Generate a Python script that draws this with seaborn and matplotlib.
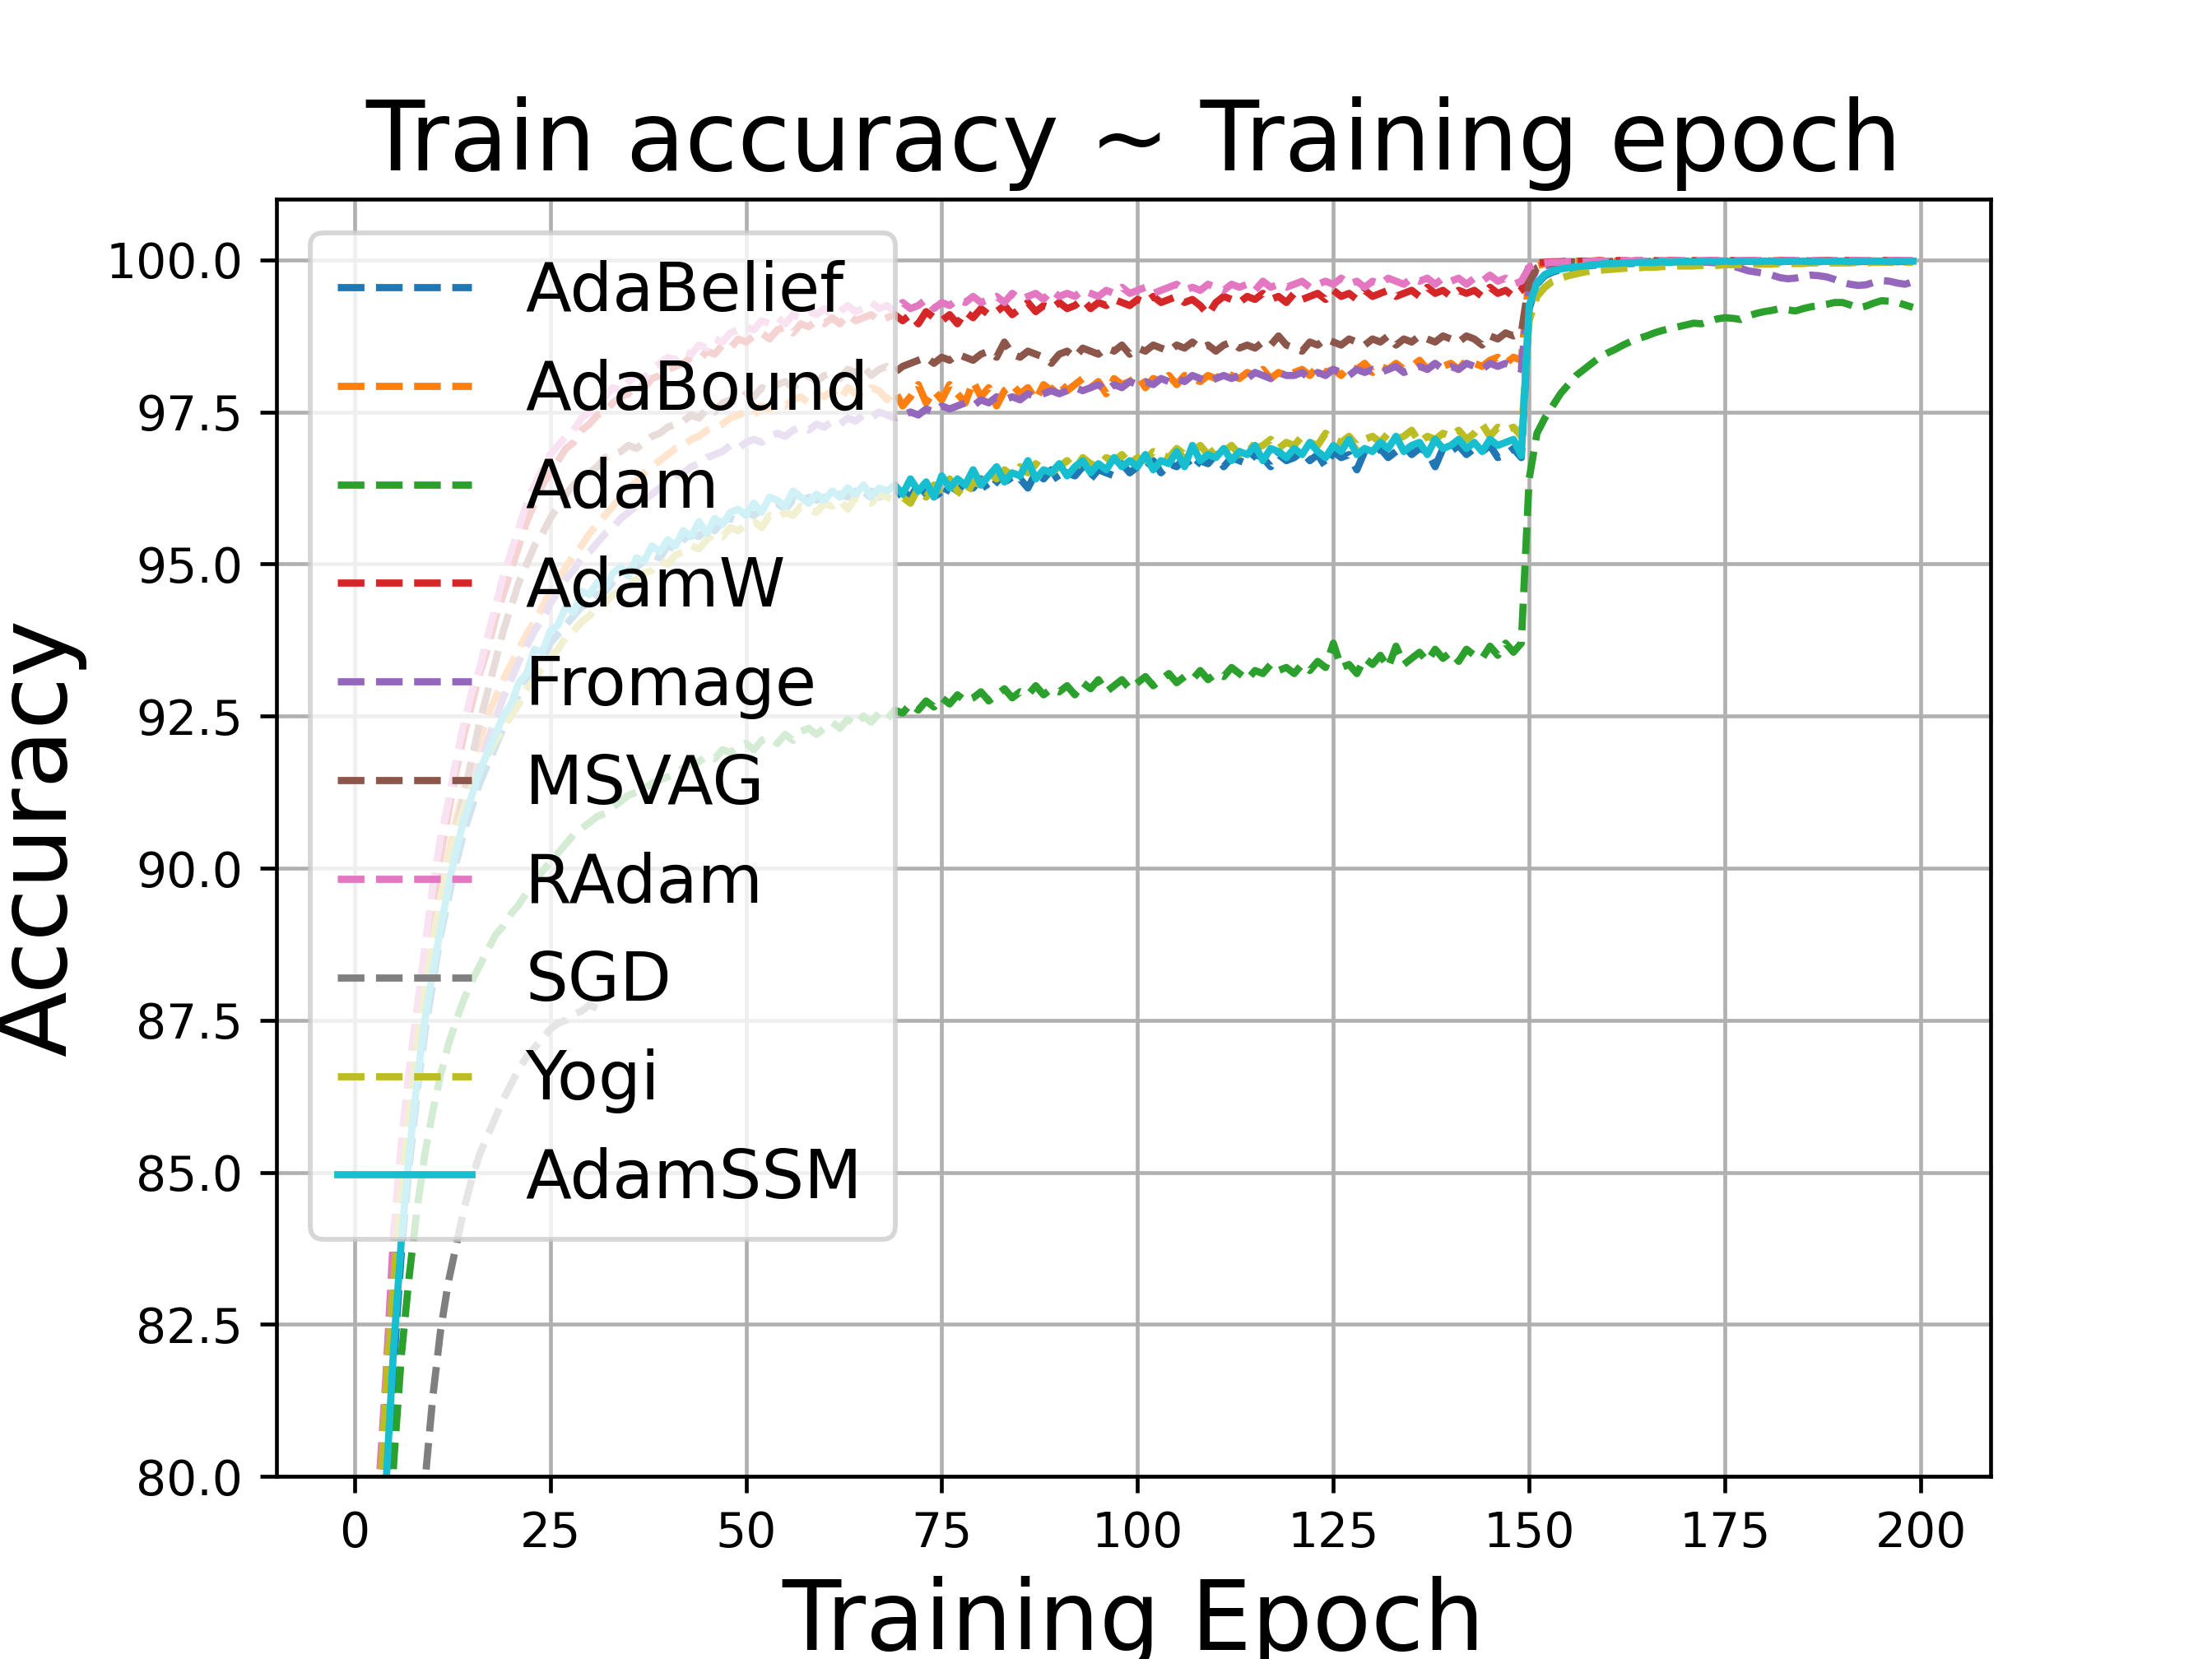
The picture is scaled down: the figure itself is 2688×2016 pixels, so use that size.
import matplotlib
matplotlib.use("Agg")
import matplotlib.pyplot as plt
import seaborn as sns

# ---------------- data (train accuracy per epoch) ----------------
names = ["AdaBelief", "AdaBound", "Adam", "AdamW", "Fromage", "MSVAG",
         "RAdam", "SGD", "Yogi", "AdamSSM"]

adabelief_acc = [
    40.1, 60.2, 70.5, 76.6, 79.5, 81.8, 83.7, 85.1, 86.3, 87.3,
    88.1, 88.9, 89.5, 90.1, 90.6, 91.0, 91.4, 91.7, 92.0, 92.3,
    92.6, 92.85, 93.1, 93.35, 93.45, 93.7, 93.85, 94.0, 94.15, 94.3,
    94.35, 94.5, 94.55, 94.7, 94.8, 94.9, 94.95, 95.05, 95.15, 95.1,
    95.3, 95.25, 95.4, 95.5, 95.45, 95.6, 95.55, 95.7, 95.75, 95.7,
    95.85, 95.8, 95.9, 95.95, 96.0, 95.9, 96.05, 96.0, 96.1, 96.05,
    96.1, 96.0, 96.15, 96.1, 96.2, 96.05, 96.2, 96.1, 96.15, 96.1,
    96.2, 96.1, 96.3, 96.15, 96.25, 96.05, 96.3, 96.2, 96.35, 96.25,
    96.4, 96.2, 96.35, 96.5, 96.3, 96.4, 96.25, 96.5, 96.4, 96.55,
    96.35, 96.5, 96.45, 96.6, 96.4, 96.55, 96.5, 96.45, 96.65, 96.5,
    96.6, 96.55, 96.7, 96.5, 96.65, 96.6, 96.75, 96.55, 96.7, 96.65,
    96.8, 96.6, 96.75, 96.7, 96.65, 96.8, 96.75, 96.6, 96.8, 96.7,
    96.75, 96.85, 96.7, 96.8, 96.6, 96.85, 96.75, 96.8, 96.55, 96.85,
    96.8, 96.9, 96.75, 96.85, 96.95, 96.8, 96.9, 96.85, 96.6, 96.9,
    96.85, 96.95, 96.8, 96.9, 96.85, 96.95, 96.75, 96.8, 96.9, 96.75,
    99.2, 99.6, 99.74, 99.8, 99.84, 99.86, 99.88, 99.89, 99.91, 99.92,
    99.93, 99.93, 99.94, 99.94, 99.95, 99.95, 99.95, 99.96, 99.96, 99.96,
    99.96, 99.97, 99.96, 99.97, 99.97, 99.97, 99.97, 99.97, 99.98, 99.97,
    99.97, 99.98, 99.97, 99.98, 99.97, 99.98, 99.98, 99.97, 99.98, 99.98,
    99.98, 99.98, 99.97, 99.98, 99.98, 99.98, 99.98, 99.97, 99.98, 99.98,
]

adabound_acc = [
    45.0, 64.5, 73.2, 78.4, 81.0, 83.0, 84.6, 85.9, 87.0, 88.0,
    88.8, 89.6, 90.2, 90.8, 91.3, 91.7, 92.1, 92.5, 92.8, 93.1,
    93.35, 93.6, 93.85, 94.05, 94.3, 94.55, 94.75, 94.95, 95.15, 95.3,
    95.5, 95.65, 95.8, 95.95, 96.1, 96.25, 96.35, 96.5, 96.6, 96.7,
    96.8, 96.9, 96.95, 97.05, 97.1, 97.2, 97.25, 97.3, 97.4, 97.45,
    97.5, 97.45, 97.6, 97.55, 97.65, 97.6, 97.7, 97.75, 97.65, 97.8,
    97.75, 97.85, 97.7, 97.9, 97.8, 97.75, 97.9, 97.85, 97.7, 97.85,
    97.6, 97.75, 97.95, 97.65, 97.85, 97.7, 97.95, 97.8, 97.65, 98.0,
    97.75, 97.9, 97.6, 97.85, 97.95, 97.8, 97.9, 97.7, 97.95, 97.85,
    98.0, 97.85, 97.95, 98.05, 97.9, 98.0, 97.8, 98.05, 97.95, 98.0,
    98.1, 97.9, 98.05, 98.0, 98.1, 97.95, 98.1, 98.05, 98.0, 98.1,
    98.05, 98.15, 98.1, 98.05, 98.15, 98.1, 98.2, 98.05, 98.15, 98.1,
    98.15, 98.2, 98.1, 98.25, 98.15, 98.2, 98.1, 98.25, 98.2, 98.3,
    98.15, 98.25, 98.2, 98.3, 98.2, 98.25, 98.35, 98.2, 98.3, 98.25,
    98.3, 98.2, 98.35, 98.3, 98.25, 98.35, 98.4, 98.3, 98.4, 98.35,
    99.75, 99.9, 99.94, 99.96, 99.97, 99.97, 99.98, 99.98, 99.98, 99.98,
    99.97, 99.98, 99.98, 99.98, 99.97, 99.98, 99.98, 99.98, 99.98, 99.97,
    99.98, 99.98, 99.98, 99.97, 99.98, 99.98, 99.98, 99.98, 99.98, 99.98,
    99.97, 99.98, 99.98, 99.98, 99.98, 99.98, 99.97, 99.98, 99.98, 99.98,
    99.98, 99.98, 99.98, 99.97, 99.98, 99.98, 99.98, 99.98, 99.98, 99.98,
]

adam_acc = [
    38.0, 55.0, 66.0, 72.5, 77.0, 80.2, 82.0, 83.3, 84.4, 85.3,
    86.0, 86.6, 87.1, 87.5, 87.85, 88.15, 88.4, 88.65, 88.9, 89.05,
    89.25, 89.4, 89.6, 89.75, 89.95, 90.1, 90.25, 90.4, 90.55, 90.65,
    90.75, 90.85, 90.9, 91.0, 91.1, 91.2, 91.25, 91.3, 91.4, 91.45,
    91.5, 91.55, 91.65, 91.7, 91.75, 91.85, 91.8, 91.95, 91.9, 92.0,
    92.05, 91.95, 92.1, 92.15, 92.05, 92.2, 92.1, 92.25, 92.3, 92.2,
    92.3, 92.4, 92.3, 92.45, 92.35, 92.5, 92.4, 92.55, 92.45, 92.6,
    92.55, 92.7, 92.6, 92.75, 92.65, 92.8, 92.7, 92.85, 92.75, 92.8,
    92.9, 92.75, 92.85, 92.95, 92.8, 92.9, 92.85, 93.0, 92.85, 92.95,
    92.9, 93.0, 92.85, 93.05, 92.95, 93.1, 92.9, 93.0, 93.1, 92.95,
    93.05, 93.15, 93.0, 93.1, 93.2, 93.05, 93.15, 93.1, 93.25, 93.1,
    93.2, 93.15, 93.3, 93.2, 93.1, 93.25, 93.2, 93.35, 93.25, 93.3,
    93.2, 93.35, 93.25, 93.4, 93.3, 93.7, 93.3, 93.35, 93.2, 93.45,
    93.35, 93.5, 93.3, 93.65, 93.35, 93.45, 93.55, 93.4, 93.6, 93.45,
    93.55, 93.4, 93.6, 93.5, 93.45, 93.65, 93.5, 93.7, 93.55, 93.7,
    96.4, 97.15, 97.4, 97.6, 97.8, 97.95, 98.1, 98.2, 98.3, 98.4,
    98.47, 98.53, 98.6, 98.66, 98.71, 98.75, 98.8, 98.84, 98.87, 98.9,
    98.93, 98.96, 98.95, 98.99, 99.03, 99.05, 99.04, 99.02, 99.08, 99.12,
    99.15, 99.17, 99.2, 99.18, 99.16, 99.2, 99.23, 99.25, 99.27, 99.3,
    99.3, 99.26, 99.21, 99.24, 99.29, 99.33, 99.32, 99.3, 99.26, 99.22,
]

adamw_acc = [
    47.0, 66.8, 74.8, 79.3, 81.4, 83.7, 85.2, 86.4, 87.5, 88.5,
    89.4, 90.2, 90.9, 91.6, 92.2, 92.7, 93.2, 93.6, 94.1, 94.5,
    94.9, 95.3, 95.7, 96.0, 96.3, 96.5, 96.7, 96.9, 97.0, 97.2,
    97.3, 97.45, 97.5, 97.65, 97.75, 97.8, 97.95, 97.9, 98.05, 98.1,
    98.2, 98.25, 98.3, 98.4, 98.35, 98.5, 98.45, 98.6, 98.55, 98.7,
    98.65, 98.75, 98.8, 98.7, 98.85, 98.9, 98.8, 98.95, 98.9, 99.0,
    98.95, 99.05, 98.95, 99.1, 99.0, 99.05, 99.1, 99.0, 99.05, 99.1,
    99.0, 99.1, 98.95, 99.15, 99.05, 99.0, 99.1, 98.95, 99.15, 99.05,
    99.2, 99.1, 99.15, 99.25, 99.1, 99.2, 99.3, 99.15, 99.25, 99.2,
    99.3, 99.2, 99.25, 99.35, 99.2, 99.3, 99.25, 99.35, 99.3, 99.25,
    99.35, 99.3, 99.4, 99.3, 99.35, 99.4, 99.3, 99.35, 99.25, 99.1,
    99.3, 99.4, 99.35, 99.3, 99.4, 99.35, 99.45, 99.35, 99.4, 99.3,
    99.45, 99.35, 99.4, 99.45, 99.35, 99.5, 99.4, 99.45, 99.35, 99.5,
    99.4, 99.45, 99.5, 99.4, 99.45, 99.5, 99.4, 99.55, 99.45, 99.5,
    99.4, 99.5, 99.45, 99.5, 99.4, 99.55, 99.45, 99.5, 99.4, 99.5,
    99.9, 99.95, 99.96, 99.97, 99.97, 99.98, 99.98, 99.98, 99.98, 99.99,
    99.98, 99.99, 99.99, 99.98, 99.99, 99.99, 99.99, 99.98, 99.99, 99.99,
    99.99, 99.99, 99.98, 99.99, 99.99, 99.99, 99.99, 99.98, 99.99, 99.99,
    99.99, 99.98, 99.99, 99.99, 99.99, 99.99, 99.98, 99.99, 99.99, 99.99,
    99.99, 99.99, 99.99, 99.98, 99.99, 99.99, 99.99, 99.99, 99.98, 99.99,
]

fromage_acc = [
    44.0, 63.5, 72.5, 77.8, 80.4, 82.5, 84.1, 85.5, 86.6, 87.6,
    88.4, 89.1, 89.8, 90.3, 90.8, 91.3, 91.7, 92.1, 92.45, 92.8,
    93.1, 93.4, 93.65, 93.9, 94.1, 94.35, 94.55, 94.75, 94.9, 95.1,
    95.2, 95.35, 95.5, 95.6, 95.75, 95.85, 95.95, 96.05, 96.15, 96.25,
    96.3, 96.45, 96.5, 96.6, 96.65, 96.75, 96.8, 96.85, 96.95, 96.9,
    97.0, 97.05, 97.0, 97.1, 97.15, 97.1, 97.2, 97.25, 97.2, 97.3,
    97.25, 97.35, 97.3, 97.4, 97.35, 97.45, 97.4, 97.5, 97.45, 97.4,
    97.45, 97.5, 97.45, 97.55, 97.5, 97.6, 97.55, 97.6, 97.65, 97.6,
    97.7, 97.65, 97.75, 97.7, 97.75, 97.7, 97.8, 97.75, 97.8, 97.85,
    97.8, 97.85, 97.9, 97.85, 97.9, 97.95, 97.85, 97.95, 97.9, 98.0,
    97.95, 98.0, 97.95, 98.05, 98.0, 98.05, 98.0, 98.1, 98.05, 98.0,
    98.05, 98.1, 98.05, 98.1, 98.05, 98.15, 98.1, 98.05, 98.15, 98.1,
    98.1, 98.15, 98.05, 98.15, 98.1, 98.2, 98.15, 98.1, 98.2, 98.15,
    98.2, 98.15, 98.2, 98.25, 98.15, 98.2, 98.25, 98.2, 98.3, 98.2,
    98.25, 98.2, 98.3, 98.25, 98.2, 98.3, 98.25, 98.3, 98.25, 98.2,
    99.6, 99.85, 99.9, 99.93, 99.95, 99.96, 99.96, 99.97, 99.97, 99.97,
    99.97, 99.97, 99.98, 99.97, 99.98, 99.97, 99.98, 99.97, 99.98, 99.97,
    99.97, 99.98, 99.97, 99.96, 99.95, 99.93, 99.9, 99.86, 99.82, 99.8,
    99.78, 99.75, 99.71, 99.69, 99.7, 99.73, 99.75, 99.74, 99.72, 99.68,
    99.63, 99.6, 99.58, 99.59, 99.63, 99.66, 99.65, 99.62, 99.6, 99.64,
]

msvag_acc = [
    44.0, 64.0, 73.0, 78.0, 80.6, 82.8, 84.4, 85.7, 86.8, 87.7,
    88.6, 89.4, 90.0, 90.6, 91.2, 91.8, 92.4, 92.9, 93.4, 93.9,
    94.3, 94.7, 95.0, 95.3, 95.5, 95.75, 95.95, 96.15, 96.3, 96.45,
    96.5, 96.6, 96.75, 96.8, 96.85, 96.95, 96.9, 97.0, 97.1, 97.15,
    97.25, 97.3, 97.35, 97.45, 97.4, 97.55, 97.5, 97.65, 97.7, 97.65,
    97.8, 97.75, 97.9, 97.85, 97.95, 98.0, 97.9, 98.05, 98.1, 98.0,
    98.1, 98.15, 98.05, 98.2, 98.15, 98.25, 98.1, 98.2, 98.25, 98.15,
    98.25, 98.3, 98.35, 98.4, 98.3, 98.4, 98.35, 98.45, 98.4, 98.35,
    98.45, 98.5, 98.4, 98.65, 98.45, 98.4, 98.5, 98.45, 98.4, 98.3,
    98.45, 98.5, 98.4, 98.55, 98.5, 98.45, 98.55, 98.5, 98.6, 98.45,
    98.55, 98.5, 98.6, 98.55, 98.5, 98.6, 98.55, 98.65, 98.55, 98.6,
    98.5, 98.6, 98.65, 98.55, 98.6, 98.55, 98.65, 98.6, 98.75, 98.6,
    98.55, 98.5, 98.65, 98.6, 98.7, 98.65, 98.6, 98.7, 98.65, 98.6,
    98.7, 98.65, 98.75, 98.6, 98.7, 98.65, 98.75, 98.7, 98.65, 98.75,
    98.7, 98.65, 98.75, 98.7, 98.6, 98.75, 98.7, 98.8, 98.75, 98.8,
    99.65, 99.87, 99.93, 99.95, 99.96, 99.97, 99.97, 99.97, 99.98, 99.98,
    99.97, 99.98, 99.98, 99.98, 99.98, 99.97, 99.98, 99.98, 99.98, 99.98,
    99.98, 99.97, 99.98, 99.98, 99.98, 99.98, 99.98, 99.97, 99.98, 99.98,
    99.98, 99.98, 99.98, 99.98, 99.97, 99.98, 99.98, 99.98, 99.98, 99.98,
    99.98, 99.97, 99.98, 99.98, 99.98, 99.98, 99.98, 99.98, 99.97, 99.98,
]

radam_acc = [
    48.0, 67.5, 75.2, 79.6, 81.6, 84.0, 85.5, 86.7, 87.7, 88.7,
    89.7, 90.5, 91.1, 91.8, 92.4, 92.9, 93.3, 93.8, 94.3, 94.8,
    95.2, 95.6, 96.0, 96.3, 96.55, 96.8, 96.95, 97.1, 97.2, 97.4,
    97.5, 97.6, 97.75, 97.9, 97.85, 98.0, 98.1, 98.05, 98.2, 98.3,
    98.4, 98.35, 98.5, 98.45, 98.6, 98.55, 98.7, 98.65, 98.8, 98.85,
    98.9, 98.85, 99.0, 98.95, 99.05, 98.95, 99.1, 99.05, 99.15, 99.1,
    99.2, 99.1, 99.15, 99.25, 99.15, 99.2, 99.3, 99.2, 99.25, 99.15,
    99.3, 99.2, 99.25, 99.35, 99.2, 99.3, 99.25, 99.35, 99.3, 99.4,
    99.3, 99.35, 99.4, 99.3, 99.45, 99.35, 99.4, 99.45, 99.35, 99.5,
    99.4, 99.45, 99.4, 99.5, 99.45, 99.4, 99.5, 99.45, 99.55, 99.45,
    99.5, 99.55, 99.45, 99.5, 99.55, 99.6, 99.5, 99.55, 99.5, 99.6,
    99.55, 99.5, 99.6, 99.55, 99.6, 99.5, 99.65, 99.55, 99.6, 99.55,
    99.6, 99.65, 99.55, 99.6, 99.65, 99.6, 99.7, 99.6, 99.65, 99.55,
    99.65, 99.6, 99.7, 99.65, 99.6, 99.7, 99.65, 99.7, 99.6, 99.7,
    99.65, 99.7, 99.6, 99.7, 99.65, 99.75, 99.65, 99.7, 99.6, 99.65,
    99.88, 99.93, 99.95, 99.96, 99.96, 99.97, 99.97, 99.97, 99.98, 99.98,
    99.98, 99.98, 99.99, 99.98, 99.99, 99.98, 99.99, 99.99, 99.98, 99.99,
    99.99, 99.98, 99.99, 99.99, 99.99, 99.98, 99.99, 99.99, 99.99, 99.99,
    99.99, 99.99, 99.98, 99.99, 99.99, 99.99, 99.99, 99.99, 99.98, 99.99,
    99.99, 99.99, 99.99, 99.99, 99.98, 99.99, 99.99, 99.99, 99.99, 99.99,
]

sgd_acc = [
    25.0, 42.0, 53.0, 61.0, 66.5, 70.5, 73.5, 76.0, 78.2, 79.9,
    81.3, 82.4, 83.2, 83.8, 84.4, 84.9, 85.3, 85.6, 85.9, 86.2,
    86.45, 86.7, 86.9, 87.05, 87.2, 87.35, 87.45, 87.5, 87.6, 87.65,
    87.75, 87.7,
]

yogi_acc = [
    46.0, 65.2, 73.5, 78.9, 81.4, 83.2, 84.7, 86.0, 87.1, 88.0,
    88.8, 89.5, 90.1, 90.6, 91.0, 91.35, 91.6, 91.85, 92.1, 92.3,
    92.5, 92.7, 92.95, 93.1, 93.3, 93.45, 93.6, 93.8, 93.9, 94.05,
    94.15, 94.3, 94.35, 94.5, 94.55, 94.7, 94.75, 94.85, 94.9, 95.05,
    95.0, 95.15, 95.2, 95.3, 95.25, 95.4, 95.5, 95.45, 95.6, 95.55,
    95.65, 95.7, 95.6, 95.8, 95.75, 95.85, 95.8, 95.95, 95.9, 95.85,
    96.0, 95.95, 96.05, 95.9, 96.1, 96.05, 96.0, 96.15, 96.1, 96.05,
    96.1, 96.0, 96.25, 96.1, 96.3, 96.15, 96.4, 96.2, 96.1, 96.35,
    96.3, 96.5, 96.4, 96.55, 96.45, 96.6, 96.5, 96.65, 96.55, 96.5,
    96.6, 96.7, 96.55, 96.75, 96.65, 96.6, 96.75, 96.7, 96.8, 96.65,
    96.75, 96.7, 96.85, 96.8, 96.75, 96.9, 96.8, 96.85, 96.95, 96.8,
    96.9, 96.85, 96.95, 96.8, 97.0, 96.9, 96.95, 97.05, 96.9, 97.0,
    96.95, 97.1, 97.0, 96.95, 97.15, 97.05, 97.0, 97.1, 96.95, 97.05,
    97.1, 97.0, 97.15, 97.05, 97.1, 97.2, 97.0, 97.1, 97.05, 97.15,
    97.1, 97.2, 97.05, 97.15, 97.3, 97.1, 97.25, 97.2, 97.25, 97.1,
    99.0, 99.4, 99.55, 99.65, 99.7, 99.74, 99.77, 99.8, 99.82, 99.83,
    99.84, 99.85, 99.86, 99.87, 99.87, 99.88, 99.88, 99.89, 99.89, 99.9,
    99.9, 99.9, 99.91, 99.91, 99.91, 99.92, 99.92, 99.92, 99.93, 99.93,
    99.93, 99.93, 99.94, 99.94, 99.94, 99.94, 99.95, 99.95, 99.95, 99.95,
    99.95, 99.95, 99.96, 99.95, 99.96, 99.96, 99.96, 99.96, 99.96, 99.96,
]

adamssm_acc = [
    42.5, 61.3, 70.8, 76.9, 79.8, 82.1, 83.9, 85.3, 86.5, 87.5,
    88.3, 89.0, 89.7, 90.3, 90.8, 91.2, 91.6, 91.9, 92.2, 92.5,
    92.7, 93.05, 93.2, 93.6, 93.55, 93.9, 94.0, 94.3, 94.2, 94.55,
    94.5, 94.7, 94.6, 94.85, 94.95, 94.8, 95.1, 95.05, 95.3, 95.2,
    95.4, 95.3, 95.55, 95.45, 95.7, 95.5, 95.75, 95.65, 95.85, 95.9,
    95.8, 96.0, 95.85, 96.1, 96.05, 95.95, 96.2, 96.1, 96.0, 96.15,
    96.05, 96.2, 96.1, 96.25, 96.15, 96.3, 96.1, 96.25, 96.2, 96.3,
    96.15, 96.4, 96.2, 96.35, 96.1, 96.45, 96.25, 96.4, 96.3, 96.55,
    96.3, 96.45, 96.6, 96.35, 96.5, 96.45, 96.7, 96.4, 96.55, 96.5,
    96.65, 96.45, 96.6, 96.7, 96.5, 96.65, 96.55, 96.75, 96.6, 96.7,
    96.6, 96.8, 96.55, 96.7, 96.65, 96.85, 96.6, 96.95, 96.7, 96.8,
    96.75, 96.9, 96.7, 96.85, 96.8, 96.95, 96.7, 96.9, 96.85, 96.75,
    96.9, 96.8, 97.0, 96.85, 96.75, 96.95, 96.85, 97.05, 96.8, 96.9,
    96.85, 97.0, 96.9, 97.1, 96.85, 96.95, 97.0, 96.8, 97.05, 96.9,
    96.95, 97.05, 96.9, 97.0, 96.85, 97.05, 96.95, 97.0, 97.05, 96.78,
    99.25, 99.62, 99.76, 99.82, 99.85, 99.87, 99.89, 99.9, 99.92, 99.93,
    99.94, 99.94, 99.95, 99.95, 99.96, 99.96, 99.96, 99.97, 99.96, 99.97,
    99.97, 99.97, 99.97, 99.98, 99.97, 99.98, 99.97, 99.98, 99.98, 99.97,
    99.98, 99.98, 99.97, 99.98, 99.98, 99.98, 99.97, 99.98, 99.98, 99.98,
    99.98, 99.97, 99.98, 99.98, 99.98, 99.98, 99.97, 99.98, 99.98, 99.98,
]

series = [adabelief_acc, adabound_acc, adam_acc, adamw_acc, fromage_acc,
          msvag_acc, radam_acc, sgd_acc, yogi_acc, adamssm_acc]

# ---------------- plot ----------------
fig, ax = plt.subplots(figsize=(6.4, 4.8), dpi=420)
palette = sns.color_palette("tab10", 10)

for i, (name, vals) in enumerate(zip(names, series)):
    epochs = list(range(len(vals)))
    ls = "-" if name == "AdamSSM" else "--"
    sns.lineplot(x=epochs, y=vals, ax=ax, color=palette[i], linestyle=ls,
                 linewidth=1.5, label=name, estimator=None, sort=False)

ax.set_ylim(80, 101)
ax.set_title("Train accuracy ~ Training epoch", fontsize=20)
ax.set_xlabel("Training Epoch", fontsize=20)
ax.set_ylabel("Accuracy", fontsize=20)
ax.grid(True)
ax.legend(loc="upper left", fontsize=14)

fig.savefig("out.png", dpi=420)
